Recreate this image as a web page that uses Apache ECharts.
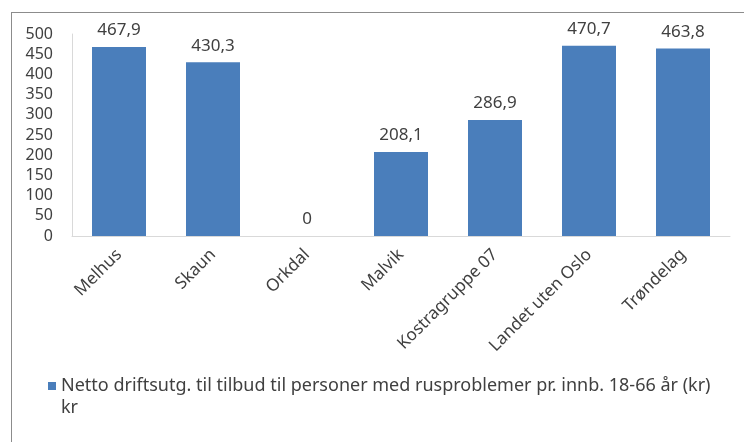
<!DOCTYPE html>
<html>
<head>
<meta charset="utf-8">
<script src="https://cdn.jsdelivr.net/npm/echarts@6/dist/echarts.min.js"></script>
<style>
    body { margin: 0; background: #fff; }
    #frame { position: absolute; left: 11px; top: 12px; right: -2px; bottom: -2px; border-top: 1px solid #8c8c8c; border-left: 1px solid #8c8c8c; }
    #main { position: absolute; left: 0; top: 0; width: 744px; height: 442px; }
</style>
</head>
<body>
<div id="frame"></div>
<div id="main"></div>
<script>
var categories = ['Melhus', 'Skaun', 'Orkdal', 'Malvik', 'Kostragruppe 07', 'Landet uten Oslo', 'Trøndelag'];
var values = [467.9, 430.3, 0, 208.1, 286.9, 470.7, 463.8];
var seriesName = 'Netto driftsutg. til tilbud til personer med rusproblemer pr. innb. 18-66 år (kr) kr';

var chart = echarts.init(document.getElementById('main'));
var font = 'Noto Sans';
chart.setOption({
    animation: false,
    textStyle: { fontFamily: font },
    grid: { left: 72, top: 34, right: 14, bottom: 206 },
    legend: {
        left: 48,
        top: 353,
        padding: 0,
        itemWidth: 8,
        itemHeight: 8,
        icon: 'rect',
        data: [seriesName],
        formatter: function (name) {
            // tom linje foran, så ikonet står ved første linje; siste ord på egen linje
            var i = name.lastIndexOf(' ');
            return '\n' + name.substring(0, i) + '\n' + name.substring(i + 1);
        },
        textStyle: { fontSize: 18, color: '#404040', lineHeight: 22 }
    },
    xAxis: {
        type: 'category',
        data: categories,
        axisLine: { lineStyle: { color: '#d9d9d9' } },
        axisTick: { show: false },
        axisLabel: { rotate: 45, fontSize: 17, color: '#404040', margin: 16, interval: 0 }
    },
    yAxis: {
        type: 'value',
        min: 0,
        max: 500,
        interval: 50,
        splitLine: { show: false },
        axisLine: { show: true, lineStyle: { color: '#d9d9d9' } },
        axisTick: { show: false },
        axisLabel: { fontSize: 16, color: '#404040', margin: 19 }
    },
    series: [{
        name: seriesName,
        type: 'bar',
        data: values,
        barWidth: 54,
        itemStyle: { color: '#4a7ebb' },
        label: {
            show: true,
            position: 'top',
            distance: 8,
            fontSize: 17,
            color: '#404040',
            formatter: function (d) {
                return String(d.value).replace('.', ',');
            }
        }
    }]
});
</script>
</body>
</html>
